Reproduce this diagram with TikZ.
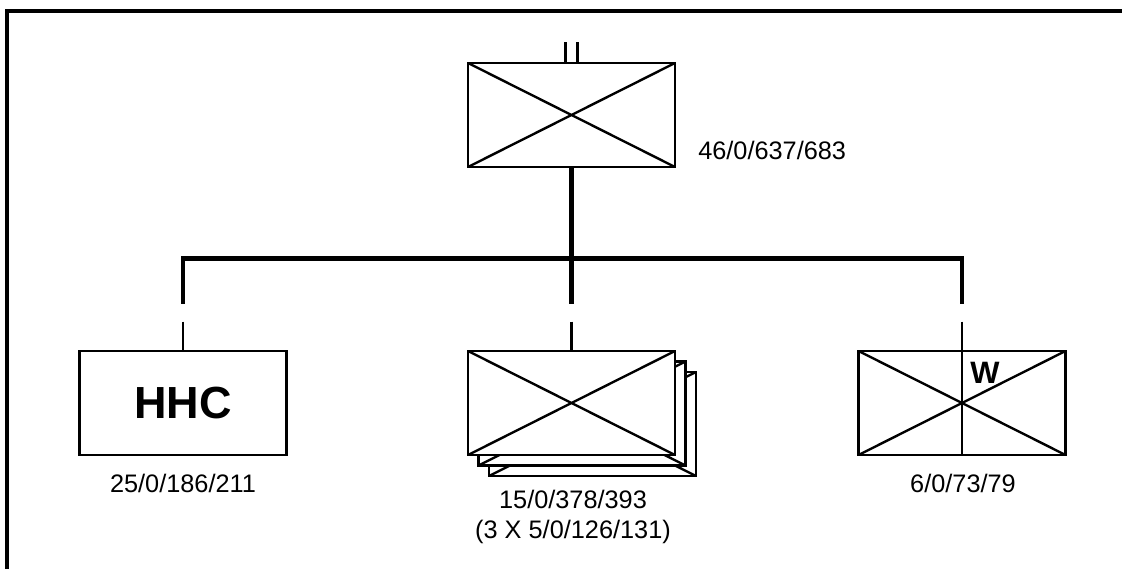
\documentclass[tikz,border=0pt]{standalone}
\usepackage{fontspec}
\setmainfont{Liberation Sans}
\usetikzlibrary{calc}
\tikzset{
unite/.style={
 draw=black, 
 fill=white, 
 line width=1.8pt, 
 minimum width=5.175cm, 
 minimum height=2.6cm, 
 inner sep=0pt
 },
croix/.style={
 unite, 
 path picture={\draw[line width=1.7pt] (path picture bounding box.north west) -- (path picture bounding box.south east) (path picture bounding box.south west) -- (path picture bounding box.north east);}
 },
lien/.style={
 draw=black, 
 line width=3.2pt
 },
lienfin/.style={
 draw=black, 
 line width=1.8pt
 },
effectif/.style={
 font=\fontsize{18}{21}\selectfont, 
 align=center, 
 inner sep=0pt
 }
}
\begin{document}
\begin{tikzpicture}[x=0.025cm,y=-0.025cm]
\useasboundingbox (0,0) rectangle (1122,569);
\draw[line width=2.2pt] (7,575) -- (7,11) -- (1130,11);
\node[croix] (bat) at (571.5,115) {};
\node[unite, font=\bfseries\fontsize{32}{36}\selectfont] (hhc) at (183,403) {HHC};
\node[croix] (cie3) at (592.5,424) {};
\node[croix] (cie2) at (582,413.5) {};
\node[croix] (cie) at (571.5,403) {};
\node[croix] (arme) at (962,403) {};
\draw[lienfin] (arme.north) -- (arme.south);
\node[font=\bfseries\fontsize{22}{26}\selectfont, inner sep=0pt] (lettre) at (985,373) {W};
\draw[lienfin] ($(bat.north)+(-6,0)$) -- ++(0,-20);
\draw[lienfin] ($(bat.north)+(6,0)$) -- ++(0,-20);
\coordinate (branche) at ($(bat.south)+(0,90)$);
\foreach \u in {hhc,cie,arme} {
 \coordinate (\u-a) at ($(\u.north)+(0,-46)$);
 \coordinate (\u-b) at ($(\u.north)+(0,-28)$);
 \draw[lienfin] (\u-b) -- (\u.north);
}
\draw[lien] (bat.south) -- (cie-a);
\draw[lien] (hhc-a) |- (branche) -| (arme-a);
\node[effectif, anchor=west] (ebat) at (698,150) {46/0/637/683};
\node[effectif] (ehhc) at (183,483) {25/0/186/211};
\node[effectif] (ecie) at (573,517) {15/0/378/393\\(3 X 5/0/126/131)};
\node[effectif] (earme) at (963,483) {6/0/73/79};
\end{tikzpicture}
\end{document}
